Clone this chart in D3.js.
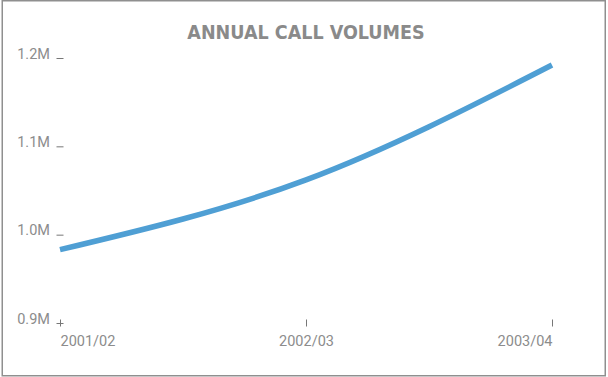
<!DOCTYPE html>
<html>
<head>
<meta charset="utf-8">
<script src="https://cdn.jsdelivr.net/npm/d3@7"></script>
<style>
  html, body { margin: 0; padding: 0; background: #fff; }
  svg { display: block; }
  .lbl { font-family: Roboto, "Noto Sans", sans-serif; font-size: 14.5px; fill: #8c8c8c; }
  .title { font-family: "DejaVu Sans Condensed", "Liberation Sans Narrow", Roboto, sans-serif; font-weight: bold; font-size: 19.5px; fill: #8a8a8a; }
</style>
</head>
<body>
<svg id="chart" width="608" height="377"></svg>
<script>
// Annual call volumes, in millions of calls
const years = ["2001/02", "2002/03", "2003/04"];
const volumes = [0.983, 1.062, 1.192];
const yTicks = [0.9, 1.0, 1.1, 1.2];
const yTickLabels = ["0.9M", "1.0M", "1.1M", "1.2M"];
const title = "ANNUAL CALL VOLUMES";

const svg = d3.select("#chart");

// frame
svg.append("rect")
  .attr("x", 2.25).attr("y", 0.75)
  .attr("width", 603).attr("height", 375)
  .attr("fill", "none").attr("stroke", "#8f8f8f").attr("stroke-width", 1.5);

const x = d3.scalePoint().domain(years).range([60, 552]);
const y = d3.scaleLinear().domain([0.9, 1.2]).range([323, 58]);

svg.append("text").attr("class", "title")
  .attr("x", 306).attr("y", 39)
  .attr("text-anchor", "middle")
  .text(title);

// y axis: short horizontal ticks with labels to their left
const yAxis = d3.axisLeft(y).tickValues(yTicks).tickSize(0).tickFormat("");
const gy = svg.append("g").attr("transform", "translate(60,0)").call(yAxis);
gy.select(".domain").remove();
gy.selectAll(".tick").append("line")
  .attr("x1", -3.5).attr("x2", 3.5)
  .attr("stroke", "#777").attr("stroke-width", 1);
gy.selectAll(".tick").append("text")
  .attr("class", "lbl")
  .attr("x", -10).attr("y", 0)
  .attr("fill", null)
  .attr("text-anchor", "end")
  .text((d, i) => yTickLabels[i]);

// x axis: short vertical ticks with labels below
const xAxis = d3.axisBottom(x).tickSize(0).tickFormat("");
const gx = svg.append("g").attr("transform", "translate(0,323)").call(xAxis);
gx.select(".domain").remove();
gx.selectAll(".tick").append("line")
  .attr("y1", -3.5).attr("y2", 3.5)
  .attr("stroke", "#777").attr("stroke-width", 1);
gx.selectAll(".tick").append("text")
  .attr("class", "lbl")
  .attr("y", 23)
  .attr("fill", null)
  .attr("text-anchor", (d, i) => i === 0 ? "start" : (i === years.length - 1 ? "end" : "middle"))
  .text(d => d);

// volume line
const line = d3.line()
  .x((d, i) => x(years[i]))
  .y(d => y(d))
  .curve(d3.curveMonotoneX);

svg.append("path")
  .datum(volumes)
  .attr("d", line)
  .attr("fill", "none")
  .attr("stroke", "#4f9fd4")
  .attr("stroke-width", 5.5);
</script>
</body>
</html>
